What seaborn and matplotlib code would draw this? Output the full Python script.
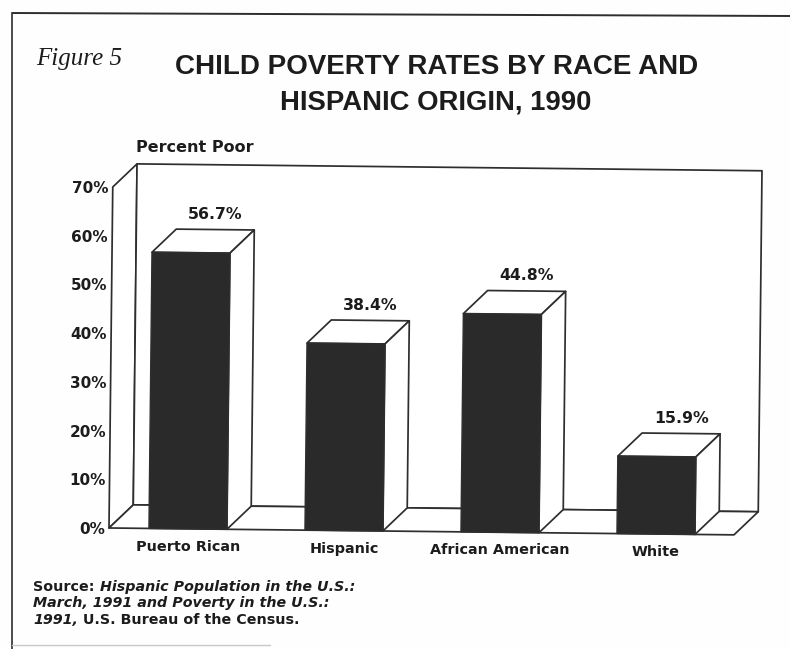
import matplotlib
matplotlib.use("Agg")
import matplotlib.pyplot as plt
import seaborn as sns
from matplotlib.lines import Line2D
from matplotlib.patches import Polygon
from matplotlib.transforms import Affine2D

groups = ["Puerto Rican", "Hispanic", "African American", "White"]
rates = [56.7, 38.4, 44.8, 15.9]
rate_labels = ["56.7%", "38.4%", "44.8%", "15.9%"]
y_ticks = [0, 10, 20, 30, 40, 50, 60, 70]
y_tick_labels = ["0%", "10%", "20%", "30%", "40%", "50%", "60%", "70%"]

# fake 3d depth, in axis units
depth_x = 0.154
depth_y = 4.8
bar_width = 0.5
x_left, x_right = -0.506, 3.5

INK = "#2e2e2e"
W, H = 790, 649

sns.set_theme(style="white")
plt.rcParams["font.family"] = ["DejaVu Sans"]

fig = plt.figure(figsize=(W / 100, H / 100), dpi=100, facecolor="#fefefe")
ax = fig.add_axes([109 / W, (H - 528) / H, 625 / W, 341 / H])
ax.patch.set_visible(False)

# the scan sits slightly crooked
tilt = Affine2D().rotate_deg_around(110, H - 528, -0.63)
tdata = ax.transData + tilt

sns.barplot(x=groups, y=rates, color="#2a2a2a", width=bar_width, saturation=1, ax=ax)
ax.set_xlim(x_left, x_right)
ax.set_ylim(0, 70)
ax.set_xlabel("")
ax.set_ylabel("")
sns.despine(ax=ax, left=True, bottom=True)


def face(pts, z):
    ax.add_patch(Polygon(pts, closed=True, facecolor="white", edgecolor=INK, lw=1.25,
                         joinstyle="round", transform=tdata, zorder=z, clip_on=False))


# walls and floor
top = y_ticks[-1]
face([(x_left, 0), (x_left, top), (x_left + depth_x, top + depth_y), (x_left + depth_x, depth_y)], 1)
face([(x_left + depth_x, depth_y), (x_left + depth_x, top + depth_y),
      (x_right + depth_x, top + depth_y), (x_right + depth_x, depth_y)], 1)
face([(x_left, 0), (x_right, 0), (x_right + depth_x, depth_y), (x_left + depth_x, depth_y)], 1.5)

for i, (bar, val) in enumerate(zip(ax.patches[:len(rates)], rates)):
    bar.set_transform(tdata)
    bar.set_edgecolor(INK)
    bar.set_linewidth(1.0)
    bar.set_zorder(3)
    bar.set_clip_on(False)
    l = bar.get_x()
    r = l + bar.get_width()
    face([(l, val), (r, val), (r + depth_x, val + depth_y), (l + depth_x, val + depth_y)], 2)
    face([(r, 0), (r, val), (r + depth_x, val + depth_y), (r + depth_x, depth_y)], 2)
    ax.text(i + depth_x, val + depth_y + 1.6, rate_labels[i], transform=tdata, ha="center", va="bottom",
            fontsize=11.3, fontweight="bold", color="#1c1c1c")

ax.set_yticks(y_ticks)
ax.set_yticklabels(y_tick_labels, fontsize=11, fontweight="bold", color="#1c1c1c")
ax.set_xticks(range(len(groups)))
ax.set_xticklabels(groups, fontsize=10.4, fontweight="bold", color="#1c1c1c")
ax.tick_params(axis="both", length=0)
ax.tick_params(axis="y", pad=3)
ax.tick_params(axis="x", pad=8)
for lbl in ax.get_yticklabels() + ax.get_xticklabels():
    lbl.set_transform(lbl.get_transform() + tilt)


def px_text(x, y, s, **kw):
    return fig.text(x / W, 1 - y / H, s, color="#1c1c1c", **kw)


px_text(136, 148, "Percent Poor", fontsize=11.5, fontweight="bold", va="center")
px_text(36, 59, "Figure 5", fontsize=18, style="italic", family="Liberation Serif", va="center")
title_font = ["Liberation Sans"]
px_text(437, 67, "CHILD POVERTY RATES BY RACE AND", fontsize=20, fontweight="bold", family=title_font, ha="center", va="center")
px_text(436, 102, "HISPANIC ORIGIN, 1990", fontsize=19.8, fontweight="bold", family=title_font, ha="center", va="center")

# source note, upright and italic runs side by side
src_lines = [
    (587, [("Source: ", "normal"), ("Hispanic Population in the U.S.:", "italic")]),
    (603, [("March, 1991 and Poverty in the U.S.:", "italic")]),
    (620, [("1991,", "italic"), (" U.S. Bureau of the Census.", "normal")]),
]
renderer = fig.canvas.get_renderer()
for y, runs in src_lines:
    x = 33
    for s, st in runs:
        t = px_text(x, y, s.replace(" ", "\u00a0"), fontsize=10.3, fontweight="bold", style=st, va="center")
        x += t.get_window_extent(renderer).width

# page frame
for xs, ys, c, lw in [
    ([12, 12], [14, 649], INK, 1.2),
    ([12, 790], [13, 16], INK, 1.4),
    ([12, 270], [645, 645], "#c8c8c8", 1.0),
]:
    fig.add_artist(Line2D([v / W for v in xs], [1 - v / H for v in ys], color=c, lw=lw))

fig.savefig("out.png", dpi=100, facecolor=fig.get_facecolor())
